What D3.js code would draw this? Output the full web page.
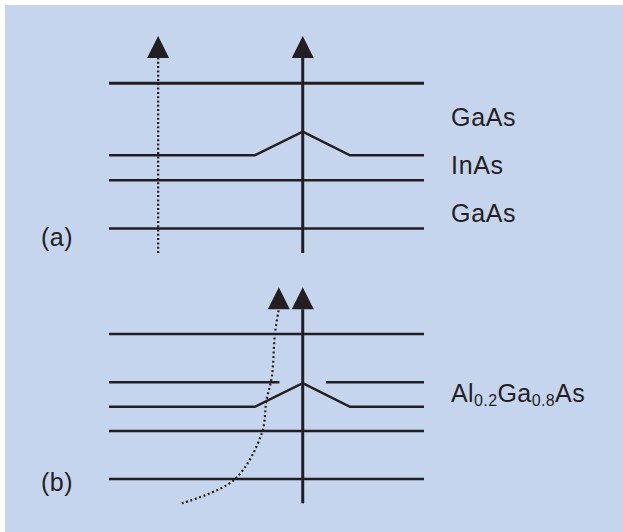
<!DOCTYPE html>
<html>
<head>
<meta charset="utf-8">
<script src="https://cdn.jsdelivr.net/npm/d3@7"></script>
<style>
  body { margin: 0; background: #fff; }
  svg { display: block; }
  text { font-family: "Liberation Sans", Arial, sans-serif; fill: #231f20; }
</style>
</head>
<body>
<div id="chart"></div>
<script>
// schematic units: x 0..100 across the layers, y 0..100 from axis foot to arrow tip
const flatLevelsA = [78.2, 33.5, 11.3];
const flatLevelsB = [78.4, 33.5, 11.3];
const dotProfileX = [0, 46.3, 61.5, 76.5, 100];
const dotProfileA = [45, 45, 55.9, 45, 45];
const dotProfileB = [44.7, 44.7, 55.6, 44.7, 44.7];
const splitLevelB = 56;
const splitSegmentsB = [[0, 54.1], [68.9, 100]];
const axisX = 61.5;
const arrowBase = 90.3;
const straightPathX = 15.6;
const curvePathX = [23.1, 39.7, 48.5, 50.0, 51.7, 52.7, 53.9];
const curvePathY = [0, 10.8, 32.4, 47.8, 58.6, 78.7, 89.8];
const curveTip = [53.9, 100];
const labelsA = [['GaAs', 58.5], ['InAs', 36.4], ['GaAs', 14.3]];
const labelsB = [['Al', '0.2', 'Ga', '0.8', 'As', 47]];
const panelNames = ['(a)', '(b)'];
const panelNameY = [3.2, 5.6];

const width = 623;
const height = 532;
const ink = '#231f20';

const svg = d3
  .select('#chart')
  .append('svg')
  .attr('width', width)
  .attr('height', height);

svg
  .append('rect')
  .attr('x', 5)
  .attr('y', 5)
  .attr('width', width - 5)
  .attr('height', height - 5)
  .attr('fill', '#c6d5ee');

const x = d3.scaleLinear().domain([0, 100]).range([109, 424]);
const yA = d3.scaleLinear().domain([0, 100]).range([253, 36]);
const yB = d3.scaleLinear().domain([0, 100]).range([503.3, 287.3]);

const line = d3.line();

function arrowHead(g, tx, ty) {
  // tip at (tx, ty), 22px wide, 22px tall
  g.append('path')
    .attr('d', `M${tx},${ty}L${tx + 11},${ty + 22}L${tx - 11},${ty + 22}Z`)
    .attr('fill', ink);
}

function drawPanel(y, flatLevels, dotProfile, name, nameY) {
  const g = svg.append('g');

  g.selectAll('.flat')
    .data(flatLevels)
    .enter()
    .append('line')
    .attr('class', 'flat')
    .attr('x1', x(0))
    .attr('x2', x(100))
    .attr('y1', d => y(d))
    .attr('y2', d => y(d))
    .attr('stroke', ink)
    .attr('stroke-width', (d, i) => (i === 0 && y === yA ? 3 : 2.5));

  g.append('path')
    .attr('d', line(dotProfileX.map((d, i) => [x(d), y(dotProfile[i])])))
    .attr('fill', 'none')
    .attr('stroke', ink)
    .attr('stroke-width', 2.5)
    .attr('stroke-linejoin', 'miter');

  g.append('line')
    .attr('x1', x(axisX))
    .attr('x2', x(axisX))
    .attr('y1', y(0))
    .attr('y2', y(arrowBase) + 1)
    .attr('stroke', ink)
    .attr('stroke-width', 3);
  arrowHead(g, x(axisX), y(100));

  g.append('text')
    .attr('x', 41)
    .attr('y', y(nameY))
    .style('font-size', '25px')
    .style('letter-spacing', '0.5px')
    .text(name);

  return g;
}

const gA = drawPanel(yA, flatLevelsA, dotProfileA, panelNames[0], panelNameY[0]);
const gB = drawPanel(yB, flatLevelsB, dotProfileB, panelNames[1], panelNameY[1]);

// panel (a): straight dotted path
gA.append('line')
  .attr('x1', x(straightPathX))
  .attr('x2', x(straightPathX))
  .attr('y1', yA(0))
  .attr('y2', yA(arrowBase))
  .attr('stroke', ink)
  .attr('stroke-width', 2.2)
  .attr('stroke-dasharray', '2,2.3');
arrowHead(gA, x(straightPathX), yA(100));

gA.selectAll('.label')
  .data(labelsA)
  .enter()
  .append('text')
  .attr('class', 'label')
  .attr('x', 451)
  .attr('y', d => yA(d[1]))
  .style('font-size', '25px')
  .style('letter-spacing', '0.7px')
  .text(d => d[0]);

// panel (b): split barrier line and curved dotted path
gB.selectAll('.split')
  .data(splitSegmentsB)
  .enter()
  .append('line')
  .attr('class', 'split')
  .attr('x1', d => x(d[0]))
  .attr('x2', d => x(d[1]))
  .attr('y1', yB(splitLevelB))
  .attr('y2', yB(splitLevelB))
  .attr('stroke', ink)
  .attr('stroke-width', 2.5);

gB.append('path')
  .attr(
    'd',
    d3.line().curve(d3.curveCatmullRom)(
      curvePathX.map((d, i) => [x(d), yB(curvePathY[i])])
    )
  )
  .attr('fill', 'none')
  .attr('stroke', ink)
  .attr('stroke-width', 2.2)
  .attr('stroke-dasharray', '2,2.6');
arrowHead(gB, x(curveTip[0]), yB(curveTip[1]));

const alLabel = gB
  .selectAll('.label')
  .data(labelsB)
  .enter()
  .append('text')
  .attr('class', 'label')
  .attr('x', 451)
  .attr('y', d => yB(d[5]))
  .style('font-size', '25px')
  .style('letter-spacing', '0.4px');
alLabel.append('tspan').text(d => d[0]);
alLabel.append('tspan').attr('dy', 4).style('font-size', '16px').text(d => d[1]);
alLabel.append('tspan').attr('dy', -4).text(d => d[2]);
alLabel.append('tspan').attr('dy', 4).style('font-size', '16px').text(d => d[3]);
alLabel.append('tspan').attr('dy', -4).text(d => d[4]);
</script>
</body>
</html>
